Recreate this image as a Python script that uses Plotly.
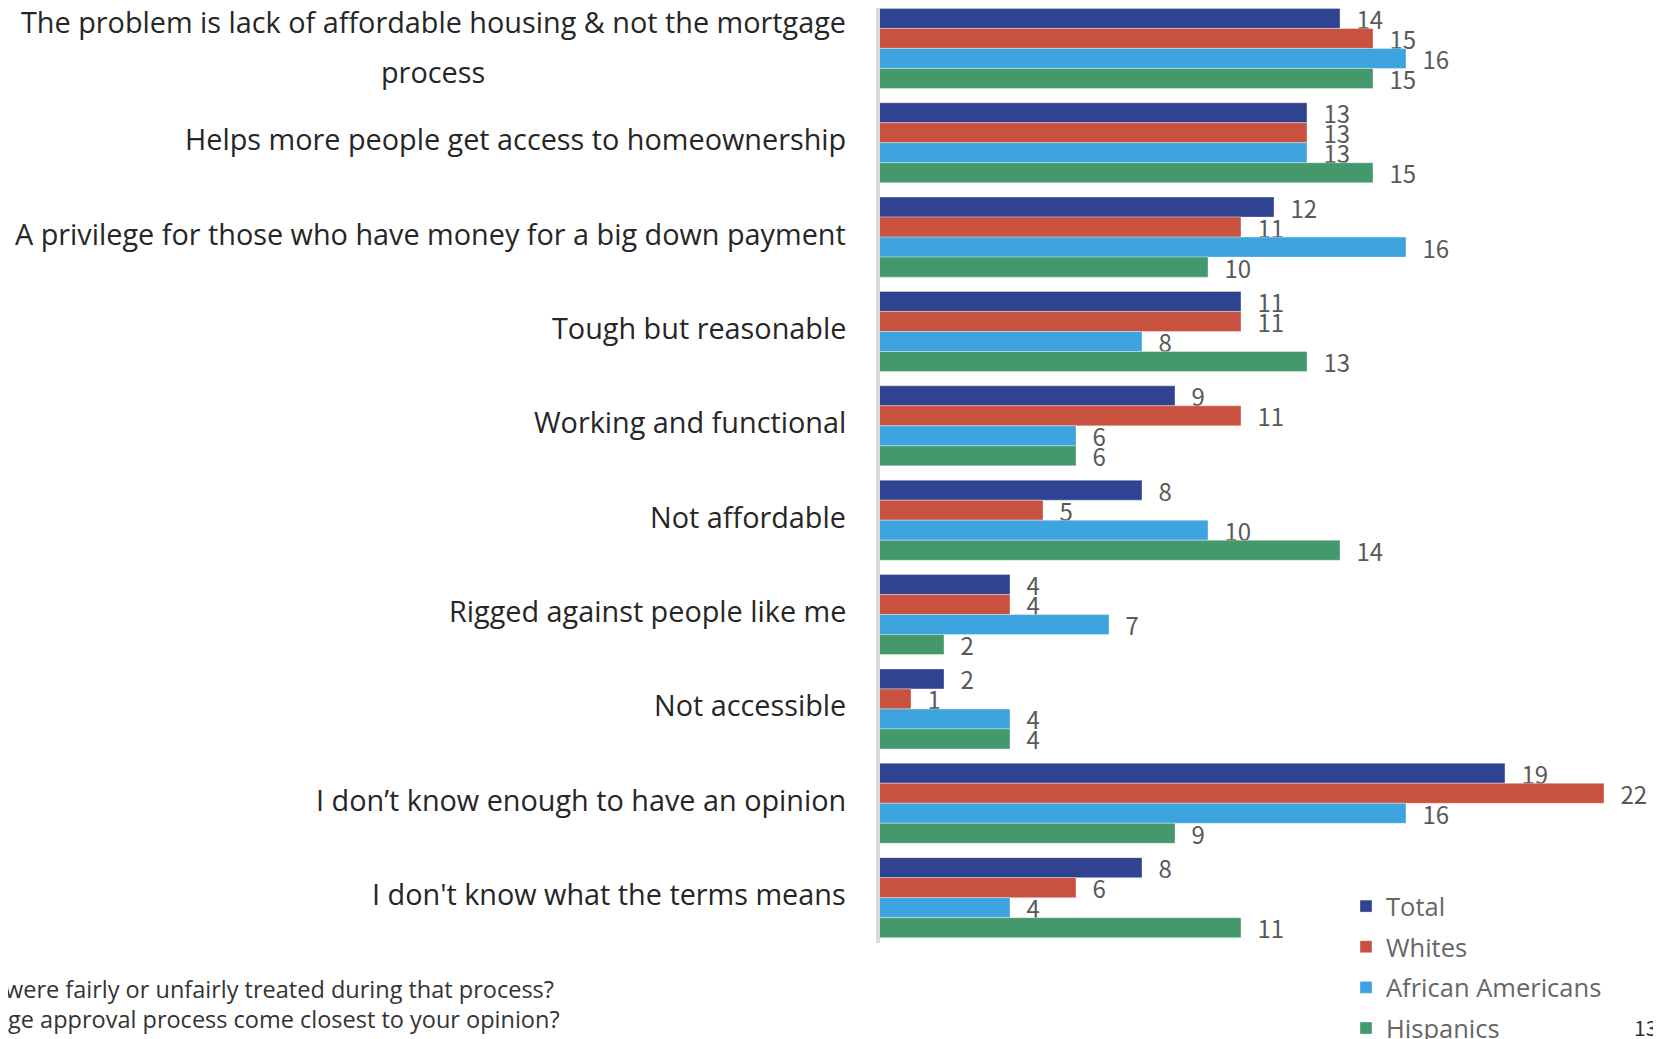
import plotly.graph_objects as go

categories = [
    "The problem is lack of affordable housing & not the mortgage process",
    "Helps more people get access to homeownership",
    "A privilege for those who have money for a big down payment",
    "Tough but reasonable",
    "Working and functional",
    "Not affordable",
    "Rigged against people like me",
    "Not accessible",
    "I don\u2019t know enough to have an opinion",
    "I don't know what the terms means",
]
label_lines = [
    ["The problem is lack of affordable housing & not the mortgage", "process"],
    ["Helps more people get access to homeownership"],
    ["A privilege for those who have money for a big down payment"],
    ["Tough but reasonable"],
    ["Working and functional"],
    ["Not affordable"],
    ["Rigged against people like me"],
    ["Not accessible"],
    ["I don\u2019t know enough to have an opinion"],
    ["I don't know what the terms means"],
]
total = [14, 13, 12, 11, 9, 8, 4, 2, 19, 8]
whites = [15, 13, 11, 11, 11, 5, 4, 1, 22, 6]
african_americans = [16, 13, 16, 8, 6, 10, 7, 4, 16, 4]
hispanics = [15, 15, 10, 13, 6, 14, 2, 4, 9, 11]

series = [
    ("Total", total, "#2F4391"),
    ("Whites", whites, "#C9513F"),
    ("African Americans", african_americans, "#3EA4E0"),
    ("Hispanics", hispanics, "#43996B"),
]

LABEL_FONT = "Open Sans"
VAL_FONT = "Noto Sans CJK JP"
OFF = 8                      # page body margin in the browser
WIN_W, WIN_H = 1661, 1039
W, H = WIN_W - OFF, WIN_H - OFF
ML_PAGE = 878                # plot left edge in page pixels
ML = ML_PAGE - OFF
PW = W - ML
BAND = 94.36                 # px per category
PX_PER_UNIT = 33.0           # px per percentage point
TOP_CENTER_PAGE = 48.4       # centre of first category band (page px)
Y_TOP = 0 - (TOP_CENTER_PAGE - OFF) / BAND
Y_BOTTOM = Y_TOP + H / BAND


def px_x(px):
    return (px - OFF - ML) / PW


def px_y(px):
    return 1 - (px - OFF) / H


fig = go.Figure()
for name, vals, color in series:
    fig.add_trace(go.Bar(
        name=name, y=categories, x=vals, orientation="h",
        marker=dict(color=color, line=dict(color="rgba(255,255,255,0.6)", width=0.6)),
        text=[str(v) for v in vals],
        texttemplate="\u2002\u200a%{text}",
        textposition="outside", constraintext="none", cliponaxis=False,
        textfont=dict(family=VAL_FONT, size=24, color="#595959"),
        legendgroup=name,
    ))

annotations = []
lab_font = dict(family=LABEL_FONT, size=28.8, color="#262626")
for cat, lines in zip(categories, label_lines):
    if len(lines) == 1:
        annotations.append(dict(
            x=0, xref="paper", y=cat, yref="y", text=lines[0], showarrow=False,
            xanchor="right", yanchor="middle", xshift=-30, yshift=4, font=lab_font))
    else:
        annotations.append(dict(
            x=0, xref="paper", y=cat, yref="y", text=lines[0], showarrow=False,
            xanchor="right", yanchor="middle", xshift=-30, yshift=27, font=lab_font))
        annotations.append(dict(
            x=px_x(433), xref="paper", y=cat, yref="y", text=lines[1], showarrow=False,
            xanchor="center", yanchor="middle", yshift=-23, font=lab_font))

note_font = dict(family=LABEL_FONT, size=23.5, color="#333333")
annotations.append(dict(x=px_x(556), xref="paper", y=px_y(989), yref="paper",
                        text="were fairly or unfairly treated during that process?", showarrow=False,
                        xanchor="right", yanchor="middle", font=note_font))
annotations.append(dict(x=px_x(562), xref="paper", y=px_y(1019), yref="paper",
                        text="age approval process come closest to your opinion?", showarrow=False,
                        xanchor="right", yanchor="middle", font=note_font))
annotations.append(dict(x=px_x(1632), xref="paper", y=px_y(1027), yref="paper",
                        text="13", showarrow=False, xanchor="left", yanchor="middle",
                        font=dict(family=VAL_FONT, size=21, color="#333333")))

shapes = [dict(type="line", xref="paper", yref="paper", x0=0, x1=0,
               y0=1, y1=px_y(943), line=dict(color="#D9D9D9", width=4), layer="above")]

fig.update_layout(
    width=W, height=H,
    margin=dict(l=ML, r=0, t=0, b=0, autoexpand=False),
    paper_bgcolor="white", plot_bgcolor="white",
    barmode="group", bargap=0.152, bargroupgap=0,
    font=dict(family=LABEL_FONT),
    xaxis=dict(range=[0, PW / PX_PER_UNIT], showgrid=False, zeroline=False,
               showticklabels=False, showline=False, fixedrange=True),
    yaxis=dict(range=[Y_BOTTOM, Y_TOP], showticklabels=False, showgrid=False,
               showline=False, ticks="", zeroline=False),
    legend=dict(x=px_x(1346), y=px_y(883), xanchor="left", yanchor="top",
                font=dict(family=LABEL_FONT, size=25.5, color="#666666"), tracegroupgap=4.5,
                bgcolor="rgba(0,0,0,0)", itemwidth=30),
    showlegend=True,
    annotations=annotations,
    shapes=shapes,
)

fig.write_html("out.html")
